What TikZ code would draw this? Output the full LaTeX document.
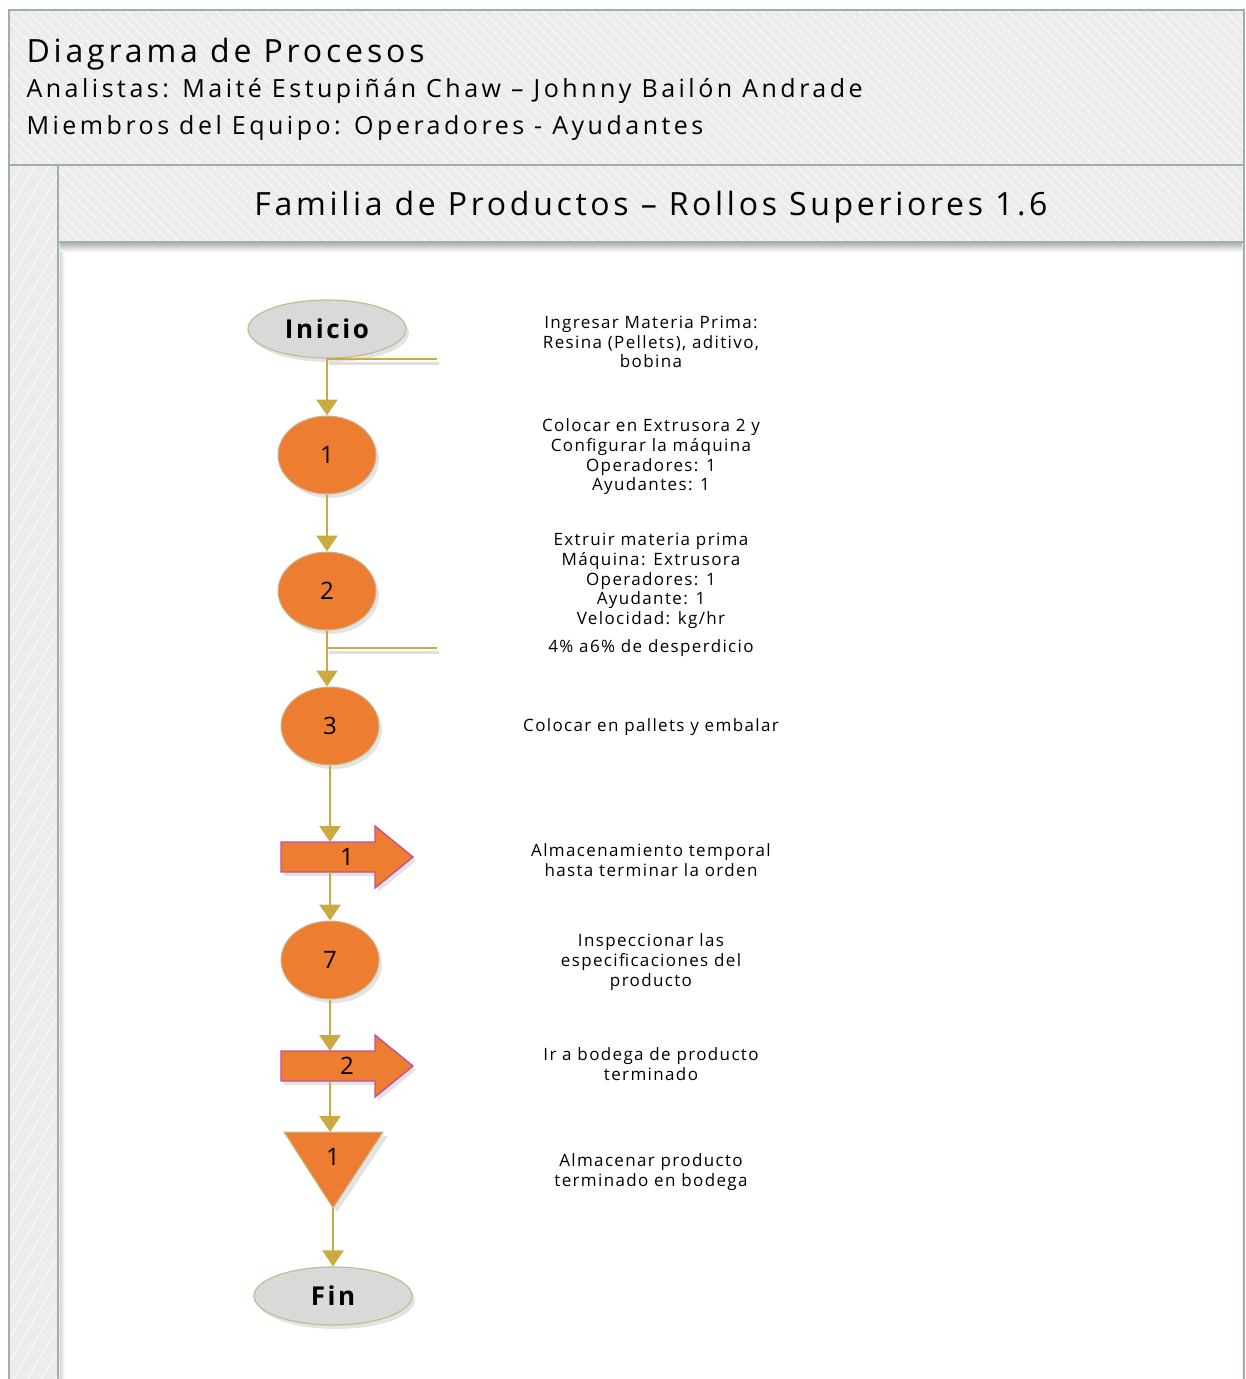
\documentclass[tikz,border=0pt]{standalone}
\usepackage{fontspec}
\setmainfont{Open Sans}
\newfontfamily\hdrfont[LetterSpace=12]{Open Sans}
\newfontfamily\titlefont[LetterSpace=11.5]{Open Sans}
\newfontfamily\subfont[LetterSpace=14]{Open Sans}
\newfontfamily\bodyfont[LetterSpace=8]{Open Sans}
\newfontfamily\termfont[LetterSpace=10]{Open Sans}
\usetikzlibrary{shapes.geometric,arrows.meta,shadows,patterns.meta}

\definecolor{framefill}{HTML}{ECECEC}
\definecolor{frameline}{HTML}{9BB2AB}
\definecolor{orangef}{HTML}{ED7D31}
\definecolor{termfill}{HTML}{D9D9D9}
\definecolor{tanb}{HTML}{C6BA92}
\definecolor{linegold}{HTML}{CBAA42}
\definecolor{magb}{HTML}{C2519A}

\tikzset{
  flow/.style={draw=linegold, line width=2.6pt, -{Triangle[width=21pt,length=16pt]}},
  branch/.style={draw=linegold, line width=2.8pt},
  branchshadow/.style={draw=black!25, line width=3pt, opacity=0.5},
  softshadow/.style={drop shadow={shadow xshift=3pt, shadow yshift=-4pt, opacity=0.18, fill=black!60}},
  terminal/.style={ellipse, fill=termfill, draw=tanb, line width=1.2pt, minimum width=158pt,
    minimum height=58pt, inner sep=0pt, softshadow,
    font=\termfont\fontsize{26}{28}\selectfont\bfseries},
  opnode/.style={ellipse, fill=orangef, draw=tanb, line width=1pt, minimum width=98pt,
    minimum height=78pt, inner sep=0pt, softshadow, font=\fontsize{24}{26}\selectfont},
  movefill/.style={fill=orangef, draw=magb, line width=1.4pt, line join=miter},
  moveshadow/.style={fill=black!60, opacity=0.18},
  numtxt/.style={font=\fontsize{24}{26}\selectfont, inner sep=0pt},
  desc/.style={align=center, font=\bodyfont\fontsize{17}{19.7}\selectfont},
  hdr/.style={anchor=base west},
}

% block arrow for a transport step, body from x=0 to 94, tip at 132
\newcommand\movepath{(0,-15) -- (94,-15) -- (94,-31) -- (132,0) -- (94,31) -- (94,15) -- (0,15) -- cycle}

\begin{document}
\begin{tikzpicture}[x=1pt,y=-1pt]
\useasboundingbox (0,0) rectangle (1246,1379);
\fill[white] (0,0) rectangle (1246,1379);

% frame, header and left strip
\fill[framefill] (9,10) rectangle (1244,1379);
\fill[pattern={Lines[angle=-45,distance=7pt,line width=0.6pt]}, pattern color=white]
  (9,10) rectangle (1244,165);
\fill[pattern={Lines[angle=-45,distance=7pt,line width=0.6pt]}, pattern color=white]
  (58,165) rectangle (1244,242);
\fill[pattern={Lines[angle=60,distance=12pt,line width=0.8pt]}, pattern color=white]
  (9,165) rectangle (58,1379);

% white content area with shadow below the title band
\fill[white] (60,243) rectangle (1242,1379);
\shade[top color=black!30, bottom color=white] (60,243) rectangle (1242,252);
\shade[left color=black!15, right color=white] (60,252) rectangle (65,1379);

\draw[frameline, line width=2pt] (9,1379) -- (9,10) -- (1244,10) -- (1244,1379);
\draw[frameline, line width=2pt] (9,165) -- (1244,165);
\draw[frameline, line width=2.4pt] (58,165) -- (58,1379);
\draw[frameline, line width=2.4pt] (58,242) -- (1244,242);

% header texts
\node[hdr, font=\hdrfont\fontsize{32}{34}\selectfont] (h1) at (23,62) {Diagrama de Procesos};
\node[hdr, font=\subfont\fontsize{25}{28}\selectfont] (h2) at (23,97)
  {Analistas: Maité Estupiñán Chaw – Johnny Bailón Andrade};
\node[hdr, font=\subfont\fontsize{25}{28}\selectfont] (h3) at (23,134)
  {Miembros del Equipo: Operadores - Ayudantes};
\node[anchor=base, font=\titlefont\fontsize{32}{34}\selectfont] (title) at (651,215)
  {Familia de Productos – Rollos Superiores 1.6};

% process symbols
\node[terminal] (inicio) at (327,329) {Inicio};
\node[opnode] (c1) at (327,455) {1};
\node[opnode] (c2) at (327,591) {2};
\node[opnode] (c3) at (330,726) {3};
\node[opnode] (c7) at (330,960) {7};

% transport arrows
\begin{scope}[shift={(281,857)}]
  \fill[moveshadow, shift={(3,4)}] \movepath;
  \filldraw[movefill] \movepath;
\end{scope}
\node[numtxt] (a1) at (347,857) {1};
\begin{scope}[shift={(281,1066)}]
  \fill[moveshadow, shift={(3,4)}] \movepath;
  \filldraw[movefill] \movepath;
\end{scope}
\node[numtxt] (a2) at (347,1066) {2};

% storage triangle
\coordinate (tritop) at (333,1132);
\coordinate (tritip) at (333,1208);
\fill[black!60, opacity=0.18] (288,1136) -- (388,1136) -- (337,1212) -- cycle;
\filldraw[fill=orangef, draw=tanb, line width=1pt] (284,1132) -- (383,1132) -- (tritip) -- cycle;
\node[numtxt] (tri) at (333,1157) {1};

\node[terminal] (fin) at (333,1296) {Fin};

% connectors
\coordinate (b1) at (437,359);
\coordinate (b2) at (437,648);
\coordinate (a1in) at (330,842);
\coordinate (a1out) at (330,872);
\coordinate (a2in) at (330,1051);
\coordinate (a2out) at (330,1081);

\draw[branchshadow] ([shift={(2,4)}]inicio.south |- b1) -- ([shift={(2,4)}]b1);
\draw[branchshadow] ([shift={(2,4)}]c2.south |- b2) -- ([shift={(2,4)}]b2);
\draw[flow] (inicio.south) -- (c1.north);
\draw[branch] (inicio.south |- b1) -- (b1);
\draw[flow] (c1.south) -- (c2.north);
\draw[flow] (c2.south) -- (c2.south |- c3.north);
\draw[branch] (c2.south |- b2) -- (b2);
\draw[flow] (c3.south) -- (a1in);
\draw[flow] (a1out) -- (c7.north);
\draw[flow] (c7.south) -- (a2in);
\draw[flow] (a2out) -- (a2out |- tritop);
\draw[flow] (tritip) -- (fin.north);

% descriptions
\node[desc] (d0) at (651,342) {Ingresar Materia Prima:\\Resina (Pellets), aditivo,\\bobina};
\node[desc] (d1) at (651,457) {Colocar en Extrusora 2 y\\Configurar la máquina\\Operadores: 1\\Ayudantes: 1};
\node[desc] (d2) at (651,581) {Extruir materia prima\\Máquina: Extrusora\\Operadores: 1\\Ayudante: 1\\Velocidad: kg/hr};
\node[desc] (d2b) at (651,648) {4\% a6\% de desperdicio};
\node[desc] (d3) at (651,727) {Colocar en pallets y embalar};
\node[desc] (d4) at (651,860) {Almacenamiento temporal\\hasta terminar la orden};
\node[desc] (d5) at (651,962) {Inspeccionar las\\especificaciones del\\producto};
\node[desc] (d6) at (651,1064) {Ir a bodega de producto\\terminado};
\node[desc] (d7) at (651,1172) {Almacenar producto\\terminado en bodega};
\end{tikzpicture}
\end{document}
